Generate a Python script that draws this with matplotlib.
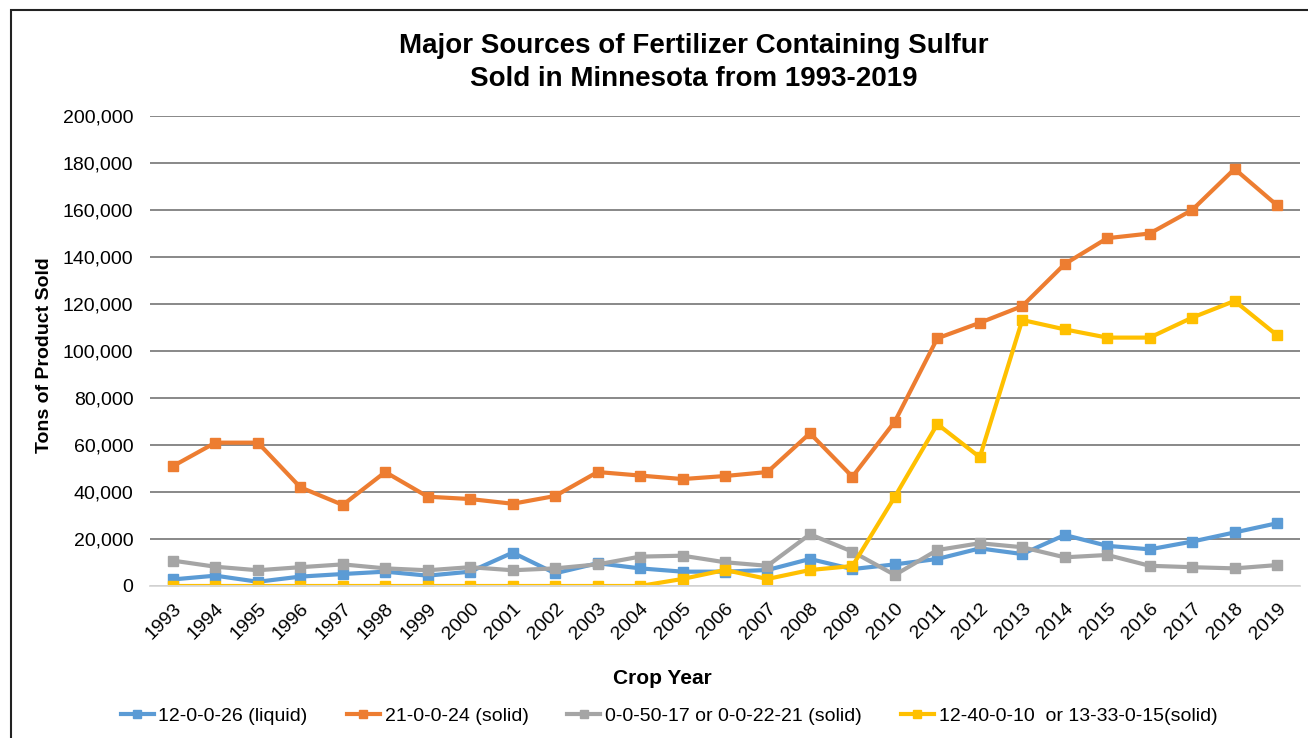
import matplotlib.pyplot as plt
from matplotlib.patches import Rectangle
from matplotlib.ticker import FuncFormatter

plt.rcParams['font.family'] = ['Liberation Sans', 'DejaVu Sans']

years = list(range(1993, 2020))

liquid_12_0_0_26 = [2800, 4400, 1800, 4000, 5100, 6100, 4400, 6100, 14200, 5400,
                    9700, 7500, 6100, 6100, 6800, 11500, 7200, 9200, 11500, 16000,
                    13600, 21700, 17100, 15600, 18900, 22800, 26700]
solid_21_0_0_24 = [51000, 61000, 61000, 42000, 34500, 48500, 38000, 37000, 35000, 38300,
                   48500, 47000, 45500, 46800, 48500, 65000, 46500, 70000, 105400, 112000,
                   119100, 137000, 148000, 150000, 160000, 177500, 162000]
solid_0_0_50_17 = [10800, 8200, 6700, 8000, 9200, 7500, 6700, 8000, 6700, 7500,
                   9200, 12500, 12900, 10100, 8600, 22000, 14600, 4700, 15300, 18200,
                   16500, 12200, 13200, 8600, 8000, 7500, 8900]
solid_12_40_0_10 = [0, 0, 0, 0, 0, 0, 0, 0, 0, 0,
                    0, 0, 3000, 6800, 3000, 6800, 8500, 38000, 68900, 54800,
                    113200, 109200, 105700, 105700, 114200, 121300, 106700]

labels = ['12-0-0-26 (liquid)', '21-0-0-24 (solid)',
          '0-0-50-17 or 0-0-22-21 (solid)', '12-40-0-10  or 13-33-0-15(solid)']
colors = ['#5B9BD5', '#ED7D31', '#A5A5A5', '#FFC000']
series = [liquid_12_0_0_26, solid_21_0_0_24, solid_0_0_50_17, solid_12_40_0_10]

fig = plt.figure(figsize=(13.08, 7.38), dpi=100)
ax = fig.add_axes([150/1308, 1 - 586/738, 1150/1308, 470/738])

for vals, lab, c in zip(series, labels, colors):
    ax.plot(years, vals, color=c, lw=3, marker='s', markersize=7, label=lab)

ax.set_ylim(0, 200000)
ax.set_xlim(1992.46, 2019.54)
ax.set_yticks(range(0, 200001, 20000))
ax.yaxis.set_major_formatter(FuncFormatter(lambda v, p: f'{int(v):,}'))
ax.set_xticks(years)
ax.set_xticklabels([str(y) for y in years], rotation=45, ha='right',
                   rotation_mode='anchor', fontsize=14)
ax.tick_params(axis='y', labelsize=14, length=0, pad=12)
ax.tick_params(axis='x', length=0, pad=10)

ax.grid(axis='y', color='#7f7f7f', lw=1.3)
ax.set_axisbelow(True)
for s in ['top', 'right', 'left']:
    ax.spines[s].set_visible(False)
ax.spines['bottom'].set_color('#d9d9d9')
ax.spines['bottom'].set_linewidth(1.3)

fig.text(45/1308, 1 - 355/738, 'Tons of Product Sold', fontsize=14, fontweight='bold',
         ha='center', va='center', rotation=90)
fig.text(662/1308, 1 - 678/738, 'Crop Year', fontsize=15, fontweight='bold',
         ha='center', va='center')

fig.text(694/1308, 1 - 46/738, 'Major Sources of Fertilizer Containing Sulfur',
         fontsize=20, fontweight='bold', ha='center', va='center')
fig.text(694/1308, 1 - 79/738, 'Sold in Minnesota from 1993-2019',
         fontsize=20, fontweight='bold', ha='center', va='center')

fig.legend(loc='center', bbox_to_anchor=(669/1308, 1 - 716/738), ncol=4,
           frameon=False, fontsize=14, handlelength=1.7, columnspacing=2.0,
           handletextpad=0.25, markerscale=0.75)

fig.patches.append(Rectangle((11/1308, -0.05), 1.1, 1 - 10/738 + 0.05,
                             transform=fig.transFigure, fill=False,
                             edgecolor='#222222', lw=1.5))

fig.savefig('out.png', dpi=100)
